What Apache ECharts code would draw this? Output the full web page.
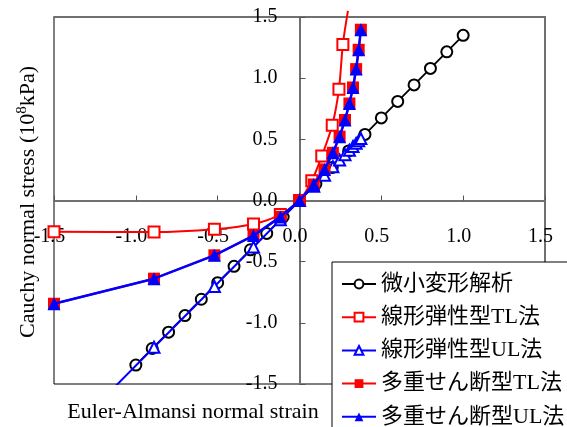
<!DOCTYPE html>
<html>
<head>
<meta charset="utf-8">
<script src="https://cdn.jsdelivr.net/npm/echarts@6/dist/echarts.min.js"></script>
<style>html,body{margin:0;padding:0;background:#fff}#c{width:567px;height:427px}</style>
</head>
<body>
<div id="c"></div>
<script>
var seriesNames = ['微小変形解析', '線形弾性型TL法', '線形弾性型UL法', '多重せん断型TL法', '多重せん断型UL法'];
var xTicks = [-1.5, -1.0, -0.5, 0.0, 0.5, 1.0, 1.5];
var yTicks = [-1.5, -1.0, -0.5, 0.0, 0.5, 1.0, 1.5];

var smallDef = [[-1.0,-1.345],[-0.9,-1.21],[-0.8,-1.076],[-0.7,-0.941],[-0.6,-0.807],[-0.5,-0.672],[-0.4,-0.538],[-0.3,-0.403],[-0.2,-0.269],[-0.1,-0.135],[0,0],[0.1,0.135],[0.2,0.27],[0.3,0.405],[0.4,0.54],[0.5,0.675],[0.6,0.81],[0.7,0.945],[0.8,1.08],[0.9,1.215],[1.0,1.35]];
var linTL = [[-1.5,-0.255],[-0.889,-0.258],[-0.52,-0.235],[-0.281,-0.192],[-0.117,-0.115],[0,0],[0.075,0.162],[0.136,0.363],[0.2,0.615],[0.241,0.91],[0.265,1.276]];
var linTLEnd = [0.296,1.55];
var linUL = [[-1.5,-2.025],[-0.889,-1.2],[-0.52,-0.703],[-0.281,-0.38],[-0.117,-0.158],[0,0],[0.087,0.117],[0.153,0.206],[0.204,0.276],[0.245,0.331],[0.278,0.375],[0.305,0.411],[0.327,0.441],[0.346,0.467],[0.3615,0.488],[0.375,0.506]];
var msTL = [[-1.5,-0.844],[-0.889,-0.639],[-0.52,-0.448],[-0.281,-0.287],[-0.117,-0.134],[0,0],[0.087,0.131],[0.153,0.254],[0.204,0.39],[0.245,0.522],[0.278,0.658],[0.305,0.793],[0.327,0.924],[0.346,1.074],[0.3615,1.232],[0.375,1.396]];
var msUL = [[-1.5,-0.844],[-0.889,-0.639],[-0.52,-0.448],[-0.281,-0.287],[-0.117,-0.134],[0,0],[0.087,0.131],[0.153,0.254],[0.204,0.39],[0.245,0.522],[0.278,0.658],[0.305,0.793],[0.327,0.924],[0.346,1.074],[0.3615,1.232],[0.375,1.396]];
var xName = 'Euler-Almansi normal strain';
var yNameParts = ['Cauchy normal stress (10', '8', 'kPa)'];

var SERIF = '"Liberation Serif", "Noto Sans CJK JP", serif';
var W = 567, H = 427;
var G = {left: 54, right: 22, top: 17, bottom: 43};
var chart = echarts.init(document.getElementById('c'), null, {renderer: 'canvas'});

function fmt(v){ return v.toFixed(1); }

var tlData = linTL.slice();
tlData.push({value: linTLEnd, symbol: 'none'});

// the axes cross at zero, which is the middle of the symmetric ranges
var xMid = (W - G.left - G.right) / 2;
var yMid = (H - G.top - G.bottom) / 2;

var option = {
  animation: false,
  backgroundColor: '#fff',
  grid: {left: G.left, right: G.right, top: G.top, bottom: G.bottom, show: true, borderColor: '#000', borderWidth: 1, backgroundColor: 'transparent'},
  xAxis: [{
    type: 'value', min: -1.5, max: 1.5, interval: 0.5, position: 'bottom', offset: -yMid,
    axisLine: {show: true, onZero: false, lineStyle: {color: '#707070', width: 2}},
    axisTick: {show: true, inside: true, length: 5, lineStyle: {color: '#555', width: 1}},
    axisLabel: {show: true, margin: 26, color: '#000', fontFamily: SERIF, fontSize: 20, padding: [0, 9, 0, 0], formatter: fmt, showMinLabel: true, showMaxLabel: true},
    splitLine: {show: false}
  }, {
    type: 'value', min: -1.5, max: 1.5, interval: 0.5, position: 'top',
    axisLine: {show: true, onZero: false, lineStyle: {color: '#707070', width: 2}},
    axisTick: {show: false}, axisLabel: {show: false}, splitLine: {show: false}
  }],
  yAxis: [{
    type: 'value', min: -1.5, max: 1.5, interval: 0.5, position: 'left', offset: -xMid,
    axisLine: {show: true, onZero: false, lineStyle: {color: '#707070', width: 2}},
    axisTick: {show: true, inside: true, length: 6, lineStyle: {color: '#555', width: 1}},
    axisLabel: {show: true, margin: 22, color: '#000', fontFamily: SERIF, fontSize: 20, padding: [8, 0, 0, 0], formatter: fmt, showMinLabel: true, showMaxLabel: true},
    splitLine: {show: false}
  }, {
    type: 'value', min: -1.5, max: 1.5, interval: 0.5, position: 'right',
    axisLine: {show: true, onZero: false, lineStyle: {color: '#707070', width: 2}},
    axisTick: {show: false}, axisLabel: {show: false}, splitLine: {show: false}
  }],
  legend: {
    orient: 'vertical', left: 332, top: 262, height: 220,
    backgroundColor: '#fff', borderColor: '#000', borderWidth: 1,
    padding: [11, 40, 10, 9], itemGap: 11.2, itemWidth: 34, itemHeight: 11,
    textStyle: {fontFamily: SERIF, fontSize: 22, color: '#000'},
    data: seriesNames
  },
  graphic: [{
    type: 'text', x: 193, y: 412,
    style: {text: xName, fill: '#000', font: '22px ' + SERIF, align: 'center', verticalAlign: 'middle'}
  }, {
    type: 'text', x: 28, y: 202, rotation: Math.PI / 2,
    style: {
      text: '{a|' + yNameParts[0] + '}{s|' + yNameParts[1] + '}{a|' + yNameParts[2] + '}',
      align: 'center', verticalAlign: 'middle', fill: '#000',
      rich: {
        a: {fontFamily: SERIF, fontSize: 22, fill: '#000', color: '#000'},
        s: {fontFamily: SERIF, fontSize: 15, fill: '#000', color: '#000', padding: [0, 0, 11, 0]}
      }
    }
  }],
  series: [{
    name: seriesNames[0], type: 'line', data: smallDef, z: 2,
    symbol: 'emptyCircle', symbolSize: 11,
    lineStyle: {color: '#000', width: 1.8}, itemStyle: {color: '#000', borderWidth: 1.2}
  }, {
    name: seriesNames[1], type: 'line', data: tlData, z: 3, smooth: 0.3, clip: false,
    symbol: 'emptyRect', symbolSize: 11,
    lineStyle: {color: '#ff0000', width: 2}, itemStyle: {color: '#ff0000', borderWidth: 1.2}
  }, {
    name: seriesNames[2], type: 'line', data: linUL, z: 4,
    symbol: 'emptyTriangle', symbolSize: 11,
    lineStyle: {color: '#0000ff', width: 2}, itemStyle: {color: '#0000ff', borderWidth: 1.2}
  }, {
    name: seriesNames[3], type: 'line', data: msTL, z: 5,
    symbol: 'rect', symbolSize: 12,
    lineStyle: {color: '#ff0000', width: 2}, itemStyle: {color: '#ff0000'}
  }, {
    name: seriesNames[4], type: 'line', data: msUL, z: 6,
    symbol: 'triangle', symbolSize: 13,
    lineStyle: {color: '#0000ff', width: 2.5}, itemStyle: {color: '#0000ff'}
  }]
};
chart.setOption(option);
</script>
</body>
</html>
